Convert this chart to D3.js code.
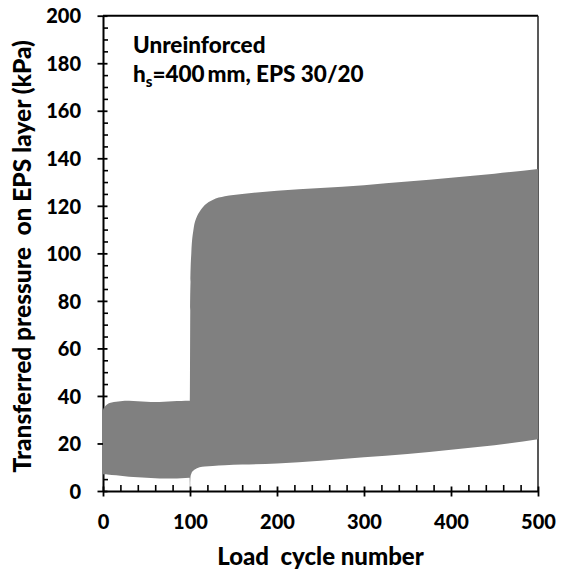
<!DOCTYPE html>
<html>
<head>
<meta charset="utf-8">
<script src="https://cdn.jsdelivr.net/npm/d3@7"></script>
<style>
  html, body { margin: 0; padding: 0; background: #fff; }
  svg { display: block; }
  text { font-family: Lato, "Open Sans", sans-serif; font-weight: 900; fill: #000; }
</style>
</head>
<body>
<svg id="chart" width="561" height="571"></svg>
<script>
// Load cycle numbers at which the pressure envelope was read
const cycles = [0, 0.3, 2, 5, 10, 20, 30, 40, 50, 60, 70, 80, 90, 99.5, 100, 100.3, 100.6, 101.5, 104, 108, 111, 117, 126, 140, 160, 200, 250, 300, 350, 400, 450, 500];
// Peak transferred pressure per cycle (kPa)
const upperPressure = [34, 34.5, 35.5, 36.5, 37.2, 37.8, 38, 37.8, 37.6, 37.5, 37.6, 37.8, 37.9, 38, 38, 76, 88, 100, 110, 115.5, 117.5, 120.3, 122.5, 124, 125, 126.3, 127.5, 128.7, 130.2, 131.8, 133.5, 135.5];
// Minimum transferred pressure per cycle (kPa)
const lowerPressure = [0, 7, 7, 6.9, 6.7, 6.4, 6.0, 5.8, 5.6, 5.4, 5.3, 5.3, 5.4, 5.6, 0, 3, 6, 7.3, 8.6, 9.6, 10, 10.3, 10.5, 10.8, 11.1, 11.6, 12.7, 14.2, 15.6, 17.4, 19.3, 21.8];

const xTicks = [0, 100, 200, 300, 400, 500];
const yTicks = [0, 20, 40, 60, 80, 100, 120, 140, 160, 180, 200];
const xMinorTicks = d3.range(0, 501, 20);
const yMinorTicks = d3.range(0, 201, 5);

const xTitle = "Load  cycle number";
const yTitle = "Transferred pressure  on EPS layer (kPa)";
const noteLine1 = "Unreinforced";

const svg = d3.select("#chart");
const plotLeft = 103, plotRight = 538, plotTop = 15.7, plotBottom = 491;

const x = d3.scaleLinear().domain([0, 500]).range([plotLeft, plotRight]);
const y = d3.scaleLinear().domain([0, 200]).range([plotBottom, plotTop]);

// Frame: top and right borders
svg.append("line").attr("x1", plotLeft).attr("x2", plotRight).attr("y1", plotTop).attr("y2", plotTop)
  .attr("stroke", "#000").attr("stroke-width", 2);
svg.append("line").attr("x1", plotRight).attr("x2", plotRight).attr("y1", plotTop).attr("y2", plotBottom)
  .attr("stroke", "#222").attr("stroke-width", 1.5);

// Minor ticks (inside)
svg.append("g").attr("transform", `translate(${plotLeft},0)`)
  .call(d3.axisRight(y).tickValues(yMinorTicks.filter(v => v % 20 !== 0)).tickSize(5).tickFormat(""))
  .call(g => g.select(".domain").remove())
  .call(g => g.selectAll("line").attr("stroke", "#000").attr("stroke-width", 1.6));
svg.append("g").attr("transform", `translate(0,${plotBottom})`)
  .call(d3.axisTop(x).tickValues(xMinorTicks.filter(v => v % 100 !== 0)).tickSize(6).tickFormat(""))
  .call(g => g.select(".domain").remove())
  .call(g => g.selectAll("line").attr("stroke", "#000").attr("stroke-width", 1.6));

// Major axes with crossing ticks
const yAxis = svg.append("g").attr("transform", `translate(${plotLeft},0)`)
  .call(d3.axisLeft(y).tickValues(yTicks).tickSize(5).tickSizeOuter(0).tickPadding(17));
yAxis.selectAll(".tick line").attr("x1", 4.5).attr("x2", -5.5);
const xAxis = svg.append("g").attr("transform", `translate(0,${plotBottom})`)
  .call(d3.axisBottom(x).tickValues(xTicks).tickSize(5).tickSizeOuter(0).tickPadding(19));
xAxis.selectAll(".tick line").attr("y1", -4.5).attr("y2", 5.5);
[yAxis, xAxis].forEach(g => {
  g.select(".domain").attr("stroke", "#000").attr("stroke-width", 2);
  g.selectAll(".tick line").attr("stroke", "#000").attr("stroke-width", 1.8);
  g.selectAll(".tick text").style("font-size", "20px").style("font-family", "Lato, sans-serif").style("font-weight", "900").attr("fill", "#000");
});
yAxis.selectAll(".tick text").attr("dy", "0.36em");
xAxis.selectAll(".tick text").attr("dy", "0.72em");

// Cyclic pressure band between per-cycle minimum and peak
const band = d3.area()
  .x((d, i) => x(cycles[i]))
  .y0((d, i) => y(lowerPressure[i]))
  .y1((d, i) => y(upperPressure[i]))
  .curve(d3.curveMonotoneX);
svg.append("path").datum(cycles).attr("d", band).attr("fill", "#808080");

// Axis titles
svg.append("text").attr("x", (plotLeft + plotRight) / 2).attr("y", 565)
  .attr("text-anchor", "middle").style("font-size", "24px").style("white-space", "pre").text(xTitle);
svg.append("text").attr("transform", `translate(31,${(plotTop + plotBottom) / 2 + 3}) rotate(-90)`)
  .attr("text-anchor", "middle").style("font-size", "24.5px").style("white-space", "pre").text(yTitle);

// Annotation
svg.append("text").attr("x", 133).attr("y", 52.5).style("font-size", "22.5px").text(noteLine1);
const note2 = svg.append("text").attr("x", 133).attr("y", 81.5).style("font-size", "22.5px");
note2.append("tspan").text("h");
note2.append("tspan").attr("dy", 5).style("font-size", "15px").text("s");
note2.append("tspan").attr("dy", -5).text("=400\u2009mm, EPS 30/20");
</script>
</body>
</html>
